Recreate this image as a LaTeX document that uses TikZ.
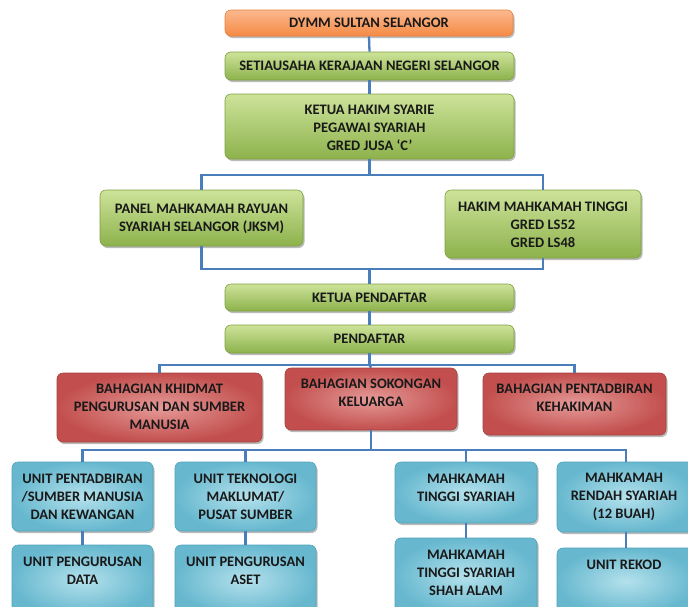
\documentclass[tikz,border=0pt]{standalone}
\usepackage{fontspec}
\setmainfont{Carlito}
\usetikzlibrary{shadows}
\definecolor{lineblue}{HTML}{4A7EBB}
\definecolor{orT}{HTML}{FBB88E}
\definecolor{orB}{HTML}{F58A45}
\definecolor{orD}{HTML}{E8803E}
\definecolor{grT}{HTML}{CDE39A}
\definecolor{grM}{HTML}{AECF70}
\definecolor{grB}{HTML}{8DB24C}
\definecolor{grD}{HTML}{7EA13F}
\definecolor{rdI}{HTML}{E59A98}
\definecolor{rdO}{HTML}{C24F4D}
\definecolor{rdD}{HTML}{A84442}
\definecolor{blI}{HTML}{B4E1EC}
\definecolor{blO}{HTML}{67B8CF}
\definecolor{blD}{HTML}{4FA3BB}
\tikzset{
  basebox/.style={rounded corners=6pt, inner sep=0pt, line width=0.6pt,
     drop shadow={shadow xshift=1.5pt, shadow yshift=-2pt, opacity=0.45, fill=black!60}},
  orbox/.style={basebox, draw=orD, top color=orT, bottom color=orB},
  grbox/.style={basebox, draw=grD, top color=grT, middle color=grM, bottom color=grB},
  rdbox/.style={basebox, draw=rdD, shading=radial, inner color=rdI, outer color=rdO},
  blbox/.style={basebox, draw=blD, shading=radial, inner color=blI, outer color=blO},
  lbl/.style={font=\fontsize{14.5}{18}\selectfont\bfseries, text=black!90, align=center, inner sep=0pt},
  conn/.style={draw=lineblue, line width=2.3pt},
}
\begin{document}
\begin{tikzpicture}[x=1pt,y=-1pt]
\useasboundingbox (0,0) rectangle (688,606);
\fill[white] (0,0) rectangle (688,606);
\clip (0,0) rectangle (688,606);
% boxes
\node[orbox, minimum width=288pt, minimum height=26pt] (dymm) at (369,23) {};
\node[grbox, minimum width=289pt, minimum height=28pt] (setia) at (369.5,66) {};
\node[grbox, minimum width=289pt, minimum height=65pt] (ketua) at (369.5,126.5) {};
\node[grbox, minimum width=203pt, minimum height=56pt] (panel) at (201.5,218) {};
\node[grbox, minimum width=196pt, minimum height=68pt] (hakim) at (543,224) {};
\node[grbox, minimum width=289pt, minimum height=27pt] (kpend) at (369.5,297.5) {};
\node[grbox, minimum width=289pt, minimum height=28pt] (pend) at (369.5,339) {};
\node[rdbox, minimum width=205pt, minimum height=69pt] (khid) at (159.5,407.5) {};
\node[rdbox, minimum width=172pt, minimum height=62pt] (soko) at (371,399) {};
\node[rdbox, minimum width=183pt, minimum height=62pt] (pent) at (574.5,404) {};
\node[blbox, minimum width=141pt, minimum height=69pt] (upsm) at (82.5,496.5) {};
\node[blbox, minimum width=141pt, minimum height=69pt] (utek) at (245.5,496.5) {};
\node[blbox, minimum width=142pt, minimum height=61pt] (mts) at (466,492.5) {};
\node[blbox, minimum width=138pt, minimum height=70pt] (mrs) at (626,497) {};
\node[blbox, minimum width=141pt, minimum height=70pt] (upd) at (82.5,580) {};
\node[blbox, minimum width=141pt, minimum height=70pt] (upa) at (245.5,580) {};
\node[blbox, minimum width=142pt, minimum height=76pt] (mtsa) at (466,576) {};
\node[blbox, minimum width=138pt, minimum height=66pt] (urek) at (626,581) {};
% connectors
\coordinate (j1) at (369.5,175);
\coordinate (j2) at (369.5,269);
\coordinate (j3) at (369.5,365);
\coordinate (j4) at (371,450);
\draw[conn] (dymm.south) -- (setia.north);
\draw[conn] (setia.south) -- (ketua.north);
\draw[conn] (ketua.south) -- (j1) -| (panel.north);
\draw[conn] (j1) -| (hakim.north);
\draw[conn] (panel.south) |- (j2) -- (kpend.north);
\draw[conn] (hakim.south) |- (j2);
\draw[conn] (kpend.south) -- (pend.north);
\draw[conn] (pend.south) -- (j3) -| (khid.north);
\draw[conn] (j3) -| (pent.north);
\draw[conn] (j3) -- (soko.north);
\draw[conn] (soko.south) -- (j4) -| (upsm.north);
\draw[conn] (j4) -| (utek.north);
\draw[conn] (j4) -| (mts.north);
\draw[conn] (j4) -| (mrs.north);
\draw[conn] (upsm.south) -- (upd.north);
\draw[conn] (utek.south) -- (upa.north);
\draw[conn] (mts.south) -- (mtsa.north);
\draw[conn] (mrs.south) -- (urek.north);
% texts
\node[lbl] (tdymm) at (369,23) {DYMM SULTAN SELANGOR};
\node[lbl] (tsetia) at (369.5,66) {SETIAUSAHA KERAJAAN NEGERI SELANGOR};
\node[lbl] (tketua) at (369.5,128) {KETUA HAKIM SYARIE\\PEGAWAI SYARIAH\\GRED JUSA ‘C’};
\node[lbl] (tpanel) at (201.5,219) {PANEL MAHKAMAH RAYUAN\\SYARIAH SELANGOR (JKSM)};
\node[lbl] (thakim) at (543,225) {HAKIM MAHKAMAH TINGGI\\GRED LS52\\GRED LS48};
\node[lbl] (tkpend) at (369.5,297.5) {KETUA PENDAFTAR};
\node[lbl] (tpend) at (369.5,339) {PENDAFTAR};
\node[lbl] (tkhid) at (159.5,407) {BAHAGIAN KHIDMAT\\PENGURUSAN DAN SUMBER\\MANUSIA};
\node[lbl] (tsoko) at (371,393) {BAHAGIAN SOKONGAN\\KELUARGA};
\node[lbl] (tpent) at (574.5,398) {BAHAGIAN PENTADBIRAN\\KEHAKIMAN};
\node[lbl] (tupsm) at (82.5,497) {UNIT PENTADBIRAN\\/SUMBER MANUSIA\\DAN KEWANGAN};
\node[lbl] (tutek) at (245.5,497) {UNIT TEKNOLOGI\\MAKLUMAT/\\PUSAT SUMBER};
\node[lbl] (tmts) at (466,487.5) {MAHKAMAH\\TINGGI SYARIAH};
\node[lbl] (tmrs) at (624,497) {MAHKAMAH\\RENDAH SYARIAH\\(12 BUAH)};
\node[lbl] (tupd) at (82.5,570.5) {UNIT PENGURUSAN\\DATA};
\node[lbl] (tupa) at (245.5,570.5) {UNIT PENGURUSAN\\ASET};
\node[lbl] (tmtsa) at (466,573) {MAHKAMAH\\TINGGI SYARIAH\\SHAH ALAM};
\node[lbl] (turek) at (624,565) {UNIT REKOD};
\end{tikzpicture}
\end{document}
